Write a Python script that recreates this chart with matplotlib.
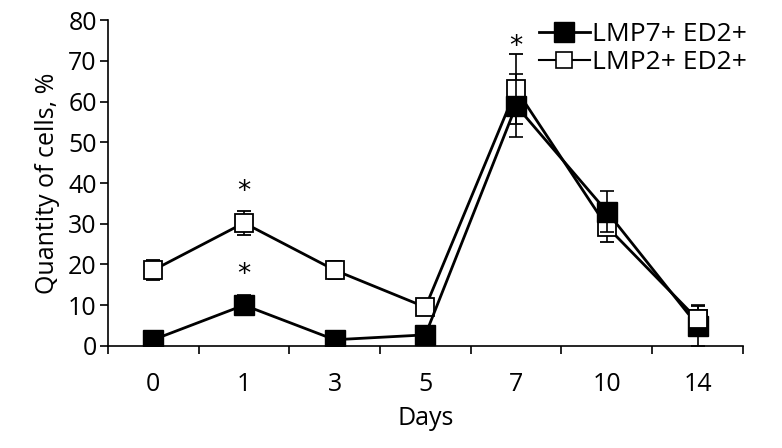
import matplotlib
matplotlib.use("Agg")
import matplotlib.pyplot as plt
from matplotlib.lines import Line2D
import numpy as np

plt.rcParams['font.family'] = ['Open Sans', 'DejaVu Sans']

days = ["0", "1", "3", "5", "7", "10", "14"]
lmp7 = [1.5, 10.0, 1.5, 2.7, 59.0, 33.0, 5.0]
lmp7_err = [1.0, 2.5, 1.0, 1.0, 7.7, 5.0, 5.0]
lmp2 = [18.6, 30.2, 18.6, 9.5, 63.0, 29.3, 6.5]
lmp2_err = [2.5, 3.0, 2.3, 1.0, 8.6, 3.9, 3.3]
star_days = ["1", "1", "7"]
star_vals = [37.8, 17.3, 73.5]

x = np.arange(len(days))

fig = plt.figure(figsize=(7.82, 4.48), dpi=100)
ax = fig.add_axes([0.138, 0.228, 0.812, 0.727])

ax.errorbar(x, lmp2, yerr=lmp2_err, color='black', lw=2, marker='s', ms=13,
            mfc='white', mec='black', mew=1.3, capsize=5, elinewidth=1.2,
            capthick=1.2, zorder=3)
ax.errorbar(x, lmp7, yerr=lmp7_err, color='black', lw=2, marker='s', ms=15,
            mfc='black', mec='black', capsize=5, elinewidth=1.2,
            capthick=1.2, zorder=4)
# open marker on top at the last day
ax.plot(x[-1:], lmp2[-1:], marker='s', ms=13, mfc='white', mec='black',
        mew=1.3, ls='none', zorder=5)

for d, v in zip(star_days, star_vals):
    ax.text(days.index(d), v, '*', ha='center', va='center', fontsize=19,
            family='DejaVu Sans')

ax.set_xlim(-0.5, len(days) - 0.5)
ax.set_ylim(0, 80)
ax.set_yticks(np.arange(0, 81, 10))
ax.set_xticks(np.arange(-0.5, len(days), 1.0))
ax.set_xticklabels([])
ax.set_xticks(x, minor=True)
ax.set_xticklabels(days, minor=True)
ax.tick_params(axis='x', which='major', direction='out', length=6, width=1.2)
ax.tick_params(axis='x', which='minor', length=0, pad=19, labelsize=18)
ax.tick_params(axis='y', direction='out', length=6, width=1.2, labelsize=18, pad=2)

for s in ['top', 'right']:
    ax.spines[s].set_visible(False)
for s in ['left', 'bottom']:
    ax.spines[s].set_linewidth(1.2)

ax.set_xlabel('Days', fontsize=18, labelpad=6)
ax.set_ylabel('Quantity of cells, %', fontsize=18, labelpad=6)

handles = [
    Line2D([0], [0], color='black', lw=2, marker='s', ms=15, mfc='black', mec='black'),
    Line2D([0], [0], color='black', lw=1.5, marker='s', ms=12, mfc='white', mec='black', mew=1.2),
]
labels = ['LMP7+ ED2+', 'LMP2+ ED2+']
fig.legend(handles, labels, loc='upper left', bbox_to_anchor=(0.683, 0.962),
           frameon=False, fontsize=19, handlelength=1.9, handletextpad=0.1,
           labelspacing=0.12, borderaxespad=0, borderpad=0.2)

fig.savefig('out.png', dpi=100)
